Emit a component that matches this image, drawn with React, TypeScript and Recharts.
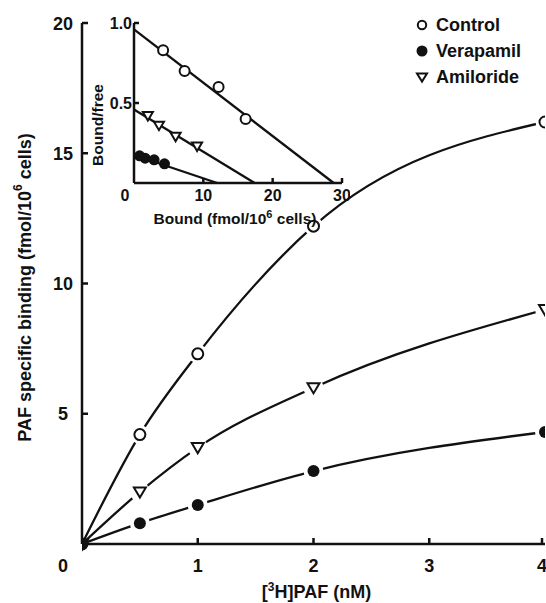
import { LineChart, Line, XAxis, YAxis, ComposedChart, Scatter } from 'recharts'

// ── main binding curves ─────────────────────────────────────────────────────
const conc = [0, 0.5, 1, 2, 4]
const controlBound = [0, 4.2, 7.3, 12.2, 16.2]
const verapamilBound = [0, 0.8, 1.5, 2.8, 4.3]
const amilorideBound = [0, 2.0, 3.7, 6.0, 9.0]
const xTicks = [0, 1, 2, 3, 4]
const yTicks = [5, 10, 15, 20]

// ── Scatchard inset ─────────────────────────────────────────────────────────
const controlScX = [4.2, 7.3, 12.2, 16.1]
const controlScY = [0.83, 0.7, 0.6, 0.4]
const amilorideScX = [2.0, 3.6, 6.0, 9.1]
const amilorideScY = [0.42, 0.36, 0.29, 0.23]
const verapamilScX = [0.8, 1.6, 2.9, 4.4]
const verapamilScY = [0.17, 0.155, 0.145, 0.12]
const controlFitX = [0, 28.8]
const controlFitY = [0.96, 0]
const amilorideFitX = [0, 17.4]
const amilorideFitY = [0.46, 0]
const verapamilFitX = [0, 12]
const verapamilFitY = [0.175, 0]
const insetXTicks = [0, 10, 20, 30]
const insetYTicks = [0.5, 1.0]

const FONT = '"Liberation Sans", Arial, sans-serif'
const INK = '#111'

const pts = (xs: number[], ys: number[]) => xs.map((x, i) => ({ x, y: ys[i] }))

const controlData = pts(conc, controlBound)
const verapamilData = pts(conc, verapamilBound)
const amilorideData = pts(conc, amilorideBound)

// markers (white halo so the curve stops short of each symbol)
// note: recharts passes its own `r` to dots, so size lives in `sz`
function OpenCircle({ cx, cy, index, sz = 5.5, halo = true }: any) {
  if (cx == null) return null
  return (
    <g>
      {halo && index !== 0 && <circle cx={cx} cy={cy} r={sz + 4} fill="#fff" />}
      <circle cx={cx} cy={cy} r={sz} fill="#fff" stroke={INK} strokeWidth={2} />
    </g>
  )
}

function FilledCircle({ cx, cy, index, sz = 6, halo = true }: any) {
  if (cx == null) return null
  return (
    <g>
      {halo && index !== 0 && <circle cx={cx} cy={cy} r={sz + 4} fill="#fff" />}
      <circle cx={cx} cy={cy} r={sz} fill={INK} />
    </g>
  )
}

function TriangleDown({ cx, cy, index, sz = 6, halo = true }: any) {
  if (cx == null) return null
  const p = `${cx - sz},${cy - sz * 0.75} ${cx + sz},${cy - sz * 0.75} ${cx},${cy + sz * 0.95}`
  return (
    <g>
      {halo && index !== 0 && <circle cx={cx} cy={cy} r={sz + 4} fill="#fff" />}
      <polygon points={p} fill="#fff" stroke={INK} strokeWidth={2} strokeLinejoin="miter" />
    </g>
  )
}

// ticks drawn inward, labels placed by offsets from the axis
function MainXTick({ x, y, payload }: any) {
  const v = payload.value
  return (
    <g>
      {v !== 0 && <line x1={x} y1={y} x2={x} y2={y - 6} stroke={INK} strokeWidth={2.5} />}
      <text x={v === 0 ? x - 19 : x} y={y + 28} textAnchor="middle" fontSize={18} fontWeight="bold" fill={INK} fontFamily={FONT}>
        {v}
      </text>
    </g>
  )
}

function MainYTick({ x, y, payload }: any) {
  return (
    <g>
      <line x1={x} y1={y} x2={x + 6} y2={y} stroke={INK} strokeWidth={2.5} />
      <text x={x - 19} y={y + 6.5} textAnchor="middle" fontSize={18} fontWeight="bold" fill={INK} fontFamily={FONT}>
        {payload.value}
      </text>
    </g>
  )
}

function InsetXTick({ x, y, payload }: any) {
  const v = payload.value
  return (
    <g>
      {v !== 0 && <line x1={x} y1={y} x2={x} y2={y - 5} stroke={INK} strokeWidth={2.5} />}
      <text x={v === 0 ? x - 9 : x} y={y + 18} textAnchor="middle" fontSize={16} fontWeight="bold" fill={INK} fontFamily={FONT}>
        {v}
      </text>
    </g>
  )
}

function InsetYTick({ x, y, payload }: any) {
  return (
    <g>
      <line x1={x} y1={y} x2={x + 5} y2={y} stroke={INK} strokeWidth={2.5} />
      <text x={x - 2} y={y + 6} textAnchor="end" fontSize={16} fontWeight="bold" fill={INK} fontFamily={FONT}>
        {payload.value.toFixed(1)}
      </text>
    </g>
  )
}

function MainYLabel({ viewBox }: any) {
  const cx = 25
  const cy = viewBox.y + viewBox.height / 2 + 4
  return (
    <text x={cx} y={cy} transform={`rotate(-90 ${cx} ${cy})`} textAnchor="middle" dominantBaseline="central"
      fontSize={18} fontWeight="bold" fill={INK} fontFamily={FONT}>
      PAF specific binding (fmol/10<tspan dy={-7} fontSize={12}>6</tspan><tspan dy={7}> cells)</tspan>
    </text>
  )
}

function MainXLabel({ viewBox }: any) {
  const cx = viewBox.x + viewBox.width / 2 + 3
  return (
    <text x={cx} y={viewBox.y + 54} textAnchor="middle" fontSize={18} fontWeight="bold" fill={INK} fontFamily={FONT}>
      [<tspan dy={-7} fontSize={12}>3</tspan><tspan dy={7}>H]PAF (nM)</tspan>
    </text>
  )
}

function InsetYLabel({ viewBox }: any) {
  const cx = viewBox.x + 7
  const cy = viewBox.y + viewBox.height / 2 + 22
  return (
    <text x={cx} y={cy} transform={`rotate(-90 ${cx} ${cy})`} textAnchor="middle" dominantBaseline="central"
      fontSize={15.5} fontWeight="bold" fill={INK} fontFamily={FONT}>
      Bound/free
    </text>
  )
}

function InsetXLabel({ viewBox }: any) {
  const cx = viewBox.x + viewBox.width / 2 - 3
  return (
    <text x={cx} y={viewBox.y + 41} textAnchor="middle" fontSize={15.5} fontWeight="bold" fill={INK} fontFamily={FONT}>
      Bound (fmol/10<tspan dy={-6} fontSize={11}>6</tspan><tspan dy={6}> cells)</tspan>
    </text>
  )
}

function LegendBox() {
  const row = { display: 'flex', alignItems: 'center', height: 26 } as const
  const txt = { fontSize: 18, fontWeight: 'bold' as const, color: INK, marginLeft: 7 }
  return (
    <div style={{ position: 'absolute', left: 415, top: 12, fontFamily: FONT }}>
      <div style={row}>
        <svg width={14} height={14}><circle cx={7} cy={7} r={4.2} fill="#fff" stroke={INK} strokeWidth={2} /></svg>
        <span style={txt}>Control</span>
      </div>
      <div style={row}>
        <svg width={14} height={14}><circle cx={7} cy={7} r={5.5} fill={INK} /></svg>
        <span style={txt}>Verapamil</span>
      </div>
      <div style={row}>
        <svg width={14} height={14}><polygon points="2,3.5 12,3.5 7,11.5" fill="#fff" stroke={INK} strokeWidth={2} /></svg>
        <span style={txt}>Amiloride</span>
      </div>
    </div>
  )
}

export default function App() {
  const axisStroke = { stroke: INK, strokeWidth: 2.5 }
  return (
    <div style={{ position: 'absolute', left: 0, top: 0, width: 546, height: 603, background: '#fff', overflow: 'hidden' }}>
      <LineChart width={546} height={603} margin={{ top: 23, right: 1, left: 0, bottom: 0 }}>
        <XAxis dataKey="x" type="number" domain={[0, 4]} ticks={xTicks} height={59}
          axisLine={axisStroke} tickLine={false} tickSize={0} tickMargin={0} tick={<MainXTick />}
          label={<MainXLabel />} allowDataOverflow />
        <YAxis type="number" domain={[0, 20]} ticks={yTicks} width={82}
          axisLine={axisStroke} tickLine={false} tickSize={0} tickMargin={0} tick={<MainYTick />}
          label={<MainYLabel />} />
        <Line data={controlData} dataKey="y" type="monotone" stroke={INK} strokeWidth={2.3}
          dot={<OpenCircle sz={5.5} />} activeDot={false} isAnimationActive={false} />
        <Line data={amilorideData} dataKey="y" type="monotone" stroke={INK} strokeWidth={2.3}
          dot={<TriangleDown sz={6} />} activeDot={false} isAnimationActive={false} />
        <Line data={verapamilData} dataKey="y" type="monotone" stroke={INK} strokeWidth={2.3}
          dot={<FilledCircle sz={6} />} activeDot={false} isAnimationActive={false} />
      </LineChart>

      <div style={{ position: 'absolute', left: 80, top: 0 }}>
        <ComposedChart width={270} height={230} margin={{ top: 23, right: 8, left: 10, bottom: 0 }}>
          <XAxis dataKey="x" type="number" domain={[0, 30]} ticks={insetXTicks} height={47}
            axisLine={axisStroke} tickLine={false} tickSize={0} tickMargin={0} tick={<InsetXTick />}
            label={<InsetXLabel />} />
          <YAxis type="number" domain={[0, 1]} ticks={insetYTicks} width={44}
            axisLine={axisStroke} tickLine={false} tickSize={0} tickMargin={0} tick={<InsetYTick />}
            label={<InsetYLabel />} />
          <Line data={pts(controlFitX, controlFitY)} dataKey="y" type="linear" stroke={INK} strokeWidth={2.3}
            dot={false} activeDot={false} isAnimationActive={false} />
          <Line data={pts(amilorideFitX, amilorideFitY)} dataKey="y" type="linear" stroke={INK} strokeWidth={2.3}
            dot={false} activeDot={false} isAnimationActive={false} />
          <Line data={pts(verapamilFitX, verapamilFitY)} dataKey="y" type="linear" stroke={INK} strokeWidth={2.3}
            dot={false} activeDot={false} isAnimationActive={false} />
          <Scatter data={pts(controlScX, controlScY)} dataKey="y" isAnimationActive={false}
            shape={(p: any) => <OpenCircle cx={p.cx} cy={p.cy} sz={5} halo={false} />} />
          <Scatter data={pts(amilorideScX, amilorideScY)} dataKey="y" isAnimationActive={false}
            shape={(p: any) => <TriangleDown cx={p.cx} cy={p.cy} sz={5} halo={false} />} />
          <Scatter data={pts(verapamilScX, verapamilScY)} dataKey="y" isAnimationActive={false}
            shape={(p: any) => <FilledCircle cx={p.cx} cy={p.cy} sz={5.5} halo={false} />} />
        </ComposedChart>
      </div>

      <LegendBox />
    </div>
  )
}
